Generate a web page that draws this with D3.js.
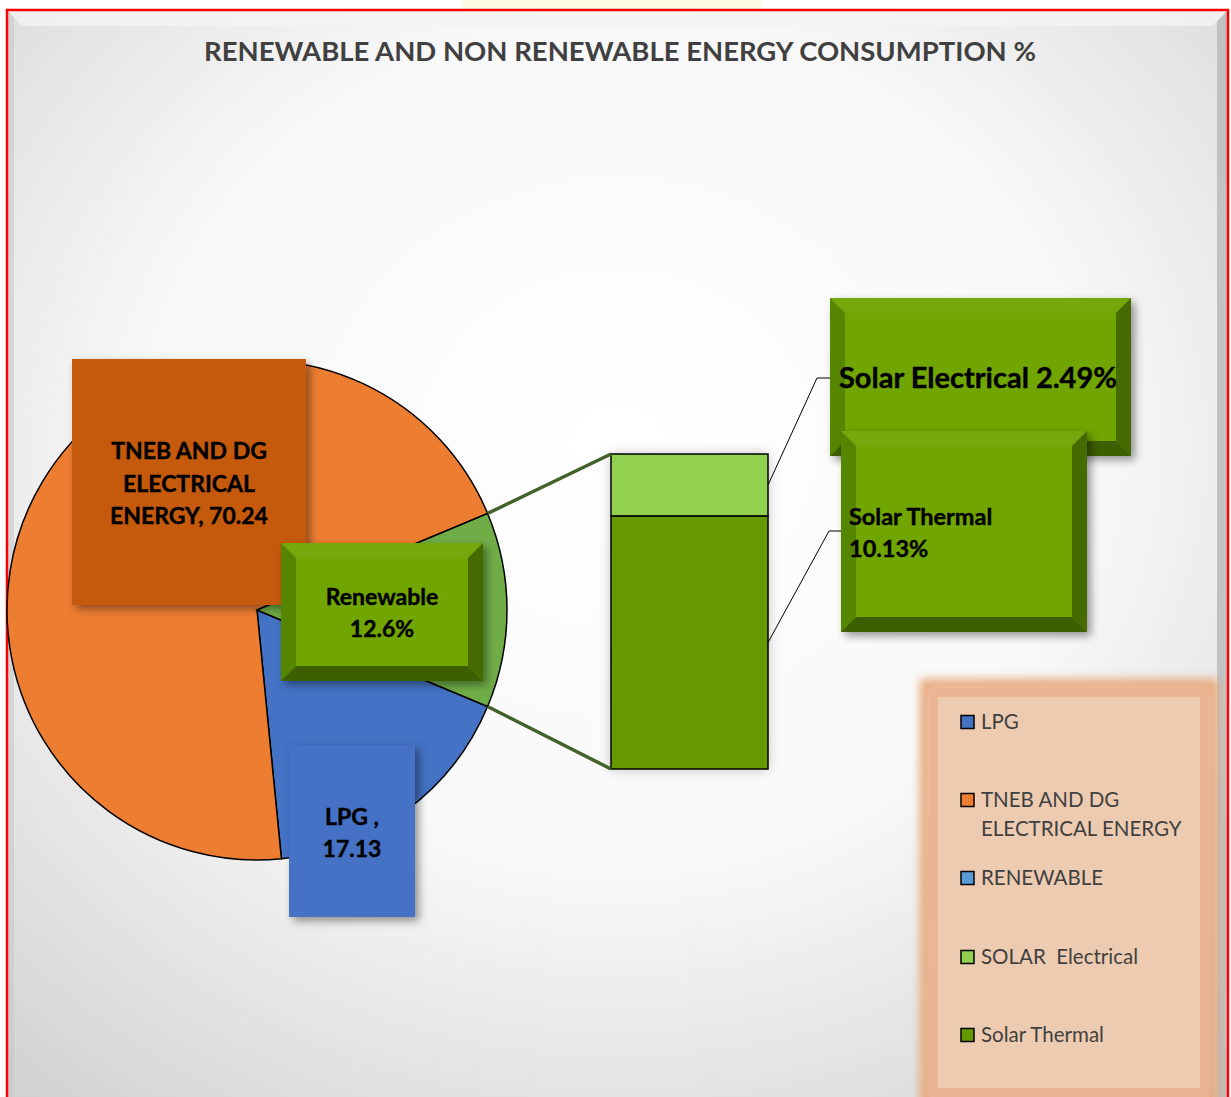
<!DOCTYPE html>
<html><head><meta charset="utf-8">
<script src="https://cdn.jsdelivr.net/npm/d3@7"></script>
<style>body{margin:0;background:#fff}svg{display:block}</style>
</head><body>
<script>
// ---- data ----
const categories = ["LPG", "TNEB AND DG ELECTRICAL ENERGY", "RENEWABLE"];
const values = [17.13, 70.24, 12.62];
const pieColors = ["#4472C4", "#ED7D31", "#70AD47"];
const subCategories = ["SOLAR  Electrical", "Solar Thermal"];
const subValues = [2.49, 10.13];
const subColors = ["#92D050", "#669900"];
const legendLabels = [["LPG"], ["TNEB AND DG", "ELECTRICAL ENERGY"], ["RENEWABLE"], ["SOLAR  Electrical"], ["Solar Thermal"]];
const legendColors = ["#4472C4", "#ED7D31", "#5B9BD5", "#92D050", "#669900"];
const dataLabels = [["LPG ,", "17.13"], ["TNEB AND DG", "ELECTRICAL", "ENERGY, 70.24"], ["Renewable", "12.6%"]];
const subLabels = [["Solar Electrical 2.49%"], ["Solar Thermal", "10.13%"]];
const title = "RENEWABLE AND NON RENEWABLE ENERGY CONSUMPTION %";

(function () {
// ---- layout ----
const W = 1231, H = 1097;
const FONT = "Lato, 'Open Sans', sans-serif";
const svg = d3.select("body").append("svg").attr("width", W).attr("height", H);
const defs = svg.append("defs");

const rg = defs.append("radialGradient").attr("id", "bg").attr("cx", "0.5").attr("cy", "0.4").attr("r", "0.78");
rg.append("stop").attr("offset", "0").attr("stop-color", "#ffffff");
rg.append("stop").attr("offset", "0.5").attr("stop-color", "#f8f8f8");
rg.append("stop").attr("offset", "1").attr("stop-color", "#d0d0d0");

const sh = defs.append("filter").attr("id", "shadow").attr("x", "-20%").attr("y", "-20%").attr("width", "150%").attr("height", "150%");
sh.append("feDropShadow").attr("dx", 4).attr("dy", 4).attr("stdDeviation", 4).attr("flood-color", "#000").attr("flood-opacity", 0.4);
const gl = defs.append("filter").attr("id", "glow").attr("x", "-20%").attr("y", "-20%").attr("width", "140%").attr("height", "140%");
gl.append("feGaussianBlur").attr("stdDeviation", 5);
const bs = defs.append("filter").attr("id", "barshadow").attr("x", "-30%").attr("y", "-30%").attr("width", "160%").attr("height", "160%");
bs.append("feDropShadow").attr("dx", 0).attr("dy", 0).attr("stdDeviation", 6).attr("flood-color", "#000").attr("flood-opacity", 0.25);

// faint yellow at top
svg.append("rect").attr("x", 462).attr("y", 0).attr("width", 300).attr("height", 12).attr("fill", "#fcfbe3");

// chart area
svg.append("rect").attr("x", 7).attr("y", 10).attr("width", 1221).attr("height", 1095).attr("fill", "url(#bg)");
svg.append("polygon").attr("points", "8,11 1227,11 1212,26 22,26").attr("fill", "#f4f4f4").attr("opacity", 0.8);
svg.append("polygon").attr("points", "1227,11 1227,1097 1217,1097 1217,22").attr("fill", "#b8b8b8").attr("opacity", 0.8);
svg.append("polygon").attr("points", "8,11 8,1097 14,1097 14,18").attr("fill", "#c8c8c8").attr("opacity", 0.6);
svg.append("rect").attr("x", 7).attr("y", 10).attr("width", 1221).attr("height", 1095).attr("fill", "none").attr("stroke", "#ff0000").attr("stroke-width", 2.5);

// title
svg.append("text").attr("x", 620).attr("y", 61).attr("text-anchor", "middle")
  .attr("font-family", FONT).attr("font-weight", 700).attr("font-size", 27).attr("fill", "#404040")
  .attr("textLength", 832).attr("lengthAdjust", "spacingAndGlyphs").text(title);

// ---- pie ----
const cx = 257, cy = 610, R = 250;
const total = d3.sum(values);
const renFrac = values[2] / total;
const start = Math.PI / 2 + Math.PI * renFrac;
const pie = d3.pie().sort(null).startAngle(start).endAngle(start + 2 * Math.PI);
const arcs = pie(values);
const arc = d3.arc().innerRadius(0).outerRadius(R);
const pg = svg.append("g").attr("transform", `translate(${cx},${cy})`);
pg.selectAll("path").data(arcs).join("path")
  .attr("d", arc).attr("fill", (d, i) => pieColors[i]).attr("stroke", "#000").attr("stroke-width", 1.5);

// ---- bar of pie ----
const barX = 611, barW = 157;
const y = d3.scaleLinear().domain([0, d3.sum(subValues)]).range([769, 454]);
const stack = [];
let acc = 0;
[1, 0].forEach(i => { stack[i] = { y0: acc, y1: acc + subValues[i] }; acc += subValues[i]; });
const bg = svg.append("g");
bg.append("rect").attr("x", barX).attr("y", y(acc)).attr("width", barW).attr("height", y(0) - y(acc))
  .attr("fill", "#ddd").attr("filter", "url(#barshadow)");
bg.selectAll("rect.seg").data(subValues).join("rect").attr("class", "seg")
  .attr("x", barX).attr("width", barW)
  .attr("y", (d, i) => y(stack[i].y1)).attr("height", (d, i) => y(stack[i].y0) - y(stack[i].y1))
  .attr("fill", (d, i) => subColors[i]).attr("stroke", "#000").attr("stroke-width", 1.5);

// connector lines
const ren = arcs[2];
const pt = a => [cx + R * Math.sin(a), cy - R * Math.cos(a)];
const pA = pt(ren.startAngle), pB = pt(ren.endAngle);
const pTop = pA[1] < pB[1] ? pA : pB, pBot = pA[1] < pB[1] ? pB : pA;
svg.append("line").attr("x1", pTop[0]).attr("y1", pTop[1]).attr("x2", barX).attr("y2", y(acc))
  .attr("stroke", "#44612a").attr("stroke-width", 3.5);
svg.append("line").attr("x1", pBot[0]).attr("y1", pBot[1]).attr("x2", barX).attr("y2", y(0))
  .attr("stroke", "#44612a").attr("stroke-width", 3.5);

// ---- helpers ----
function bevelBox(x, yy, w, h, b) {
  const g = svg.append("g").attr("filter", "url(#shadow)");
  g.append("rect").attr("x", x).attr("y", yy).attr("width", w).attr("height", h).attr("fill", "#71a503");
  g.append("polygon").attr("points", `${x},${yy} ${x + w},${yy} ${x + w - b},${yy + b} ${x + b},${yy + b}`).attr("fill", "#76a80d");
  g.append("polygon").attr("points", `${x},${yy} ${x + b},${yy + b} ${x + b},${yy + h - b} ${x},${yy + h}`).attr("fill", "#578600");
  g.append("polygon").attr("points", `${x + w},${yy} ${x + w},${yy + h} ${x + w - b},${yy + h - b} ${x + w - b},${yy + b}`).attr("fill", "#456a00");
  g.append("polygon").attr("points", `${x},${yy + h} ${x + w},${yy + h} ${x + w - b},${yy + h - b} ${x + b},${yy + h - b}`).attr("fill", "#3e5e00");
  return g;
}
function plainBox(x, yy, w, h, fill) {
  svg.append("rect").attr("x", x).attr("y", yy).attr("width", w).attr("height", h).attr("fill", fill).attr("filter", "url(#shadow)");
}
function lines(lns, x, y0, dy, size, anchor) {
  const t = svg.append("text").attr("font-family", FONT).attr("font-weight", 700).attr("font-size", size)
    .attr("fill", "#000").attr("text-anchor", anchor).attr("stroke", "#000").attr("stroke-width", 0.4);
  lns.forEach((s, i) => t.append("tspan").attr("x", x).attr("y", y0 + i * dy).text(s));
}

// leader lines
const midY = i => y((stack[i].y0 + stack[i].y1) / 2);
svg.append("polyline").attr("points", `${barX + barW},${midY(0)} 817,378 830,378`).attr("fill", "none").attr("stroke", "#000").attr("stroke-width", 1);
svg.append("polyline").attr("points", `${barX + barW},${midY(1)} 829,531 841,531`).attr("fill", "none").attr("stroke", "#000").attr("stroke-width", 1);

// data labels
plainBox(72, 359, 234, 246, "#C55A11");
lines(dataLabels[1], 189, 459, 32.5, 23, "middle");
bevelBox(281, 543, 202, 138, 15);
lines(dataLabels[2], 382, 605, 32, 23, "middle");
plainBox(289, 745, 126, 172, "#4472C4");
lines(dataLabels[0], 352, 825, 32, 23, "middle");

bevelBox(830, 298, 301, 158, 15);
lines(subLabels[0], 839, 388, 32, 29, "start");
bevelBox(841, 431, 246, 201, 15);
lines(subLabels[1], 849, 525, 32, 23.5, "start");

// ---- legend ----
svg.append("rect").attr("x", 926).attr("y", 685).attr("width", 286).attr("height", 416)
  .attr("fill", "none").attr("stroke", "#e8a77a").attr("stroke-width", 12).attr("filter", "url(#glow)");
svg.append("rect").attr("x", 929).attr("y", 688).attr("width", 280).attr("height", 410).attr("fill", "#eab592");
svg.append("rect").attr("x", 938).attr("y", 697).attr("width", 262).attr("height", 391).attr("fill", "#edcbb0");
const ly = [722, 800, 878, 957, 1035];
const lg = svg.append("g");
legendLabels.forEach((lab, i) => {
  lg.append("rect").attr("x", 961).attr("y", ly[i] - 6.5).attr("width", 13).attr("height", 13)
    .attr("fill", legendColors[i]).attr("stroke", "#000").attr("stroke-width", 1.5);
  const t = lg.append("text").attr("font-family", FONT).attr("font-size", 20.5).attr("fill", "#404040");
  lab.forEach((s, j) => t.append("tspan").attr("x", 981).attr("y", ly[i] + 7 + j * 29).attr("xml:space", "preserve").text(s));
});
})();
</script>
</body></html>
